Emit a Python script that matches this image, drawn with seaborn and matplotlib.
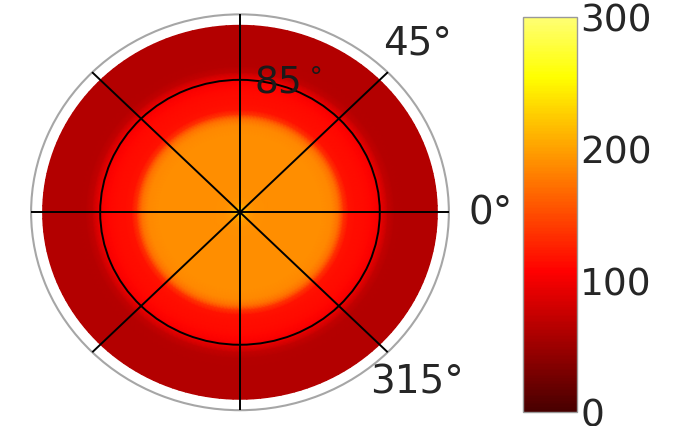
import numpy as np
import matplotlib
matplotlib.use("Agg")
import matplotlib.pyplot as plt
from matplotlib.colors import ListedColormap
import seaborn as sns

sns.set_theme(style="white")
plt.rcParams["font.family"] = ["DejaVu Sans"]

# Radial intensity profile of the map (ring radius -> value)
ring_radius = [0, 3, 6, 10, 20, 30, 40, 50, 56, 60, 63, 66, 70, 76, 80, 84, 87, 90, 94, 100, 110, 120]
ring_value = [240, 210, 195, 190, 189, 188, 188, 188, 186, 170, 135, 118, 114, 112, 110, 104, 88, 72, 64, 63, 63, 63]

theta_ticks = [0, 45, 90, 135, 180, 225, 270, 315]
theta_labels = ["0°", "45°", "", "", "", "", "", "315°"]
r_grid = [85]
r_label = r"$85^\circ$"
cbar_ticks = [0, 100, 200, 300]
vmin, vmax = 0, 300
r_max = 127

# "hot" palette, trimmed at both ends (dark maroon -> pale yellow)
hot = sns.color_palette("hot", as_cmap=True)
cmap = ListedColormap(hot(np.linspace(0.093, 0.861, 256)))

fig = plt.figure(figsize=(6.76, 4.27), dpi=100)
ax = fig.add_axes([0.046, 0.037, 0.618, 0.927], projection="polar")
ax.set_aspect("auto")
ax.set_axisbelow(False)

theta = np.deg2rad(np.linspace(0, 360, 181))
R, T = np.meshgrid(np.asarray(ring_radius, float), theta)
C = np.tile(np.asarray(ring_value, float), (len(theta), 1))
mesh = ax.pcolormesh(T, R, C, cmap=cmap, vmin=vmin, vmax=vmax, shading="gouraud")

ax.set_ylim(0, r_max)
ax.set_thetagrids(theta_ticks, labels=theta_labels, fontsize=28)
ax.set_rgrids(r_grid, labels=[""])
ax.grid(True, color="black", linewidth=1.4)
ax.tick_params(axis="x", pad=23, length=0)
ax.tick_params(axis="y", length=0)
ax.text(np.deg2rad(71), 89, r_label, fontsize=27, ha="center", va="center",
        color="#1a1a1a", zorder=5)
ax.spines["polar"].set_color("0.65")
ax.spines["polar"].set_linewidth(1.5)

cax = fig.add_axes([0.774, 0.033, 0.080, 0.925])
cb = fig.colorbar(mesh, cax=cax, ticks=cbar_ticks)
cb.ax.tick_params(labelsize=27, length=0, pad=2)
cb.outline.set_edgecolor("0.6")
cb.outline.set_linewidth(1.0)

fig.savefig("out.png", dpi=100)
